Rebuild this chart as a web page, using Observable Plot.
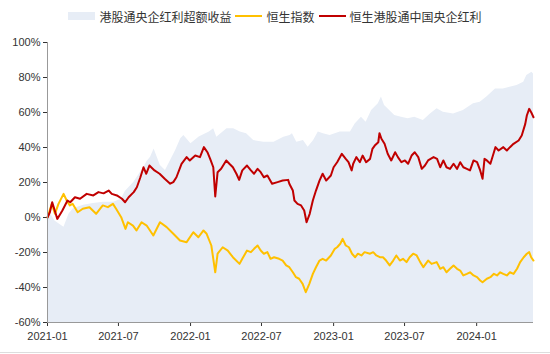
<!DOCTYPE html>
<html><head><meta charset="utf-8">
<script src="https://cdn.jsdelivr.net/npm/d3@7"></script>
<script src="https://cdn.jsdelivr.net/npm/@observablehq/plot@0.6"></script>
<style>
html,body{margin:0;padding:0;background:#fff;}
body{width:550px;height:354px;overflow:hidden;font-family:"Liberation Sans",Arial,sans-serif;}
#legend{height:30px;display:flex;justify-content:center;align-items:center;font-family:"Noto Sans CJK SC","Noto Sans",sans-serif;font-size:12px;color:#333;padding-top:2px;box-sizing:border-box;}
#legend .item{display:flex;align-items:center;margin:0 2px;}
#legend .sw{display:inline-block;width:27px;margin-right:4px;}
#legend .area{height:8px;background:#E7EDF6;}
#legend .line{height:2px;}
#chart svg{display:block;}
#foot{height:2px;border-top:1px solid #ddd;}
</style>
</head><body>
<div id="legend"></div>
<div id="chart"></div>
<div id="foot"></div>
<script>
const seriesNames = ["港股通央企红利超额收益", "恒生指数", "恒生港股通中国央企红利"];
const seriesColors = ["#E7EDF6", "#FFC000", "#C00000"];

const xTicks = ["2021-01-01","2021-07-01","2022-01-01","2022-07-01","2023-01-01","2023-07-01","2024-01-01"];
const yTicks = [-60,-40,-20,0,20,40,60,80,100];

// 恒生港股通中国央企红利 (%)
const redDates = ["2021-01-01","2021-01-07","2021-01-13","2021-01-26","2021-02-08","2021-02-21","2021-02-28","2021-03-12","2021-03-25","2021-04-11","2021-04-28","2021-05-11","2021-05-24","2021-06-06","2021-06-14","2021-06-27","2021-07-10","2021-07-18","2021-07-27","2021-08-09","2021-08-17","2021-08-26","2021-09-03","2021-09-10","2021-09-18","2021-10-01","2021-10-14","2021-10-27","2021-11-10","2021-11-18","2021-11-26","2021-12-09","2021-12-22","2021-12-30","2022-01-13","2022-01-25","2022-02-04","2022-02-13","2022-02-20","2022-02-28","2022-03-05","2022-03-11","2022-03-20","2022-04-02","2022-04-10","2022-04-19","2022-04-28","2022-05-05","2022-05-13","2022-05-25","2022-06-04","2022-06-12","2022-06-21","2022-06-29","2022-07-07","2022-07-16","2022-07-28","2022-08-11","2022-08-24","2022-09-07","2022-09-10","2022-09-19","2022-09-23","2022-10-01","2022-10-10","2022-10-18","2022-10-24","2022-11-01","2022-11-09","2022-11-17","2022-11-26","2022-12-04","2022-12-13","2022-12-25","2023-01-01","2023-01-10","2023-01-22","2023-02-01","2023-02-08","2023-02-16","2023-02-20","2023-02-28","2023-03-09","2023-03-16","2023-03-25","2023-04-04","2023-04-10","2023-04-16","2023-04-25","2023-04-28","2023-05-03","2023-05-11","2023-05-19","2023-05-28","2023-06-07","2023-06-14","2023-06-23","2023-07-02","2023-07-10","2023-07-19","2023-07-27","2023-08-05","2023-08-14","2023-08-22","2023-08-30","2023-09-13","2023-09-22","2023-09-30","2023-10-08","2023-10-16","2023-10-25","2023-11-03","2023-11-12","2023-11-20","2023-11-28","2023-12-07","2023-12-15","2023-12-24","2024-01-02","2024-01-10","2024-01-16","2024-01-21","2024-01-27","2024-02-05","2024-02-14","2024-02-18","2024-02-26","2024-03-09","2024-03-18","2024-03-26","2024-04-04","2024-04-17","2024-04-25","2024-05-04","2024-05-08","2024-05-14","2024-05-19","2024-05-25"];
const redValues = [0,3,8.7,-0.8,4,9.7,8.7,11.6,10.7,13.5,12.6,14.5,13.8,15.4,13.5,12.6,10.7,8.7,11.6,14.5,17.3,23,28.7,25,29.7,26.9,25,22.1,19.3,20.2,23,30.7,34.5,32.6,35.4,34.5,40.2,37.3,33.5,28.7,12,25.9,27.8,32.6,30.7,28.7,25,21.5,26.9,29.7,26.9,25,27.8,25.9,23,24,19.3,20.2,21.1,21.5,19.3,15.4,9.7,7.8,6.9,4,-2.7,2.1,9.7,15.4,21.1,25,21.1,24,28.7,31.6,36.4,33.5,31.6,26.9,30.7,34.5,31.6,35.4,31.6,33.5,39.2,41.1,43,48.2,45,42.1,36.4,32.6,37.3,34.5,31.6,32.6,30.7,35.4,37.3,34.5,27.8,29.7,32.6,34.5,33.5,28.7,32.6,28.7,27.8,30.7,27.8,31.6,28.7,27.8,26.9,32.6,31.6,26.9,22.1,33.5,32.6,30.7,37.3,40.2,38.3,40.2,38.3,40.2,42.1,44,46.9,53.5,58.3,62.1,60.2,57.3];

// 恒生指数 (%)
const yellowDates = ["2021-01-01","2021-01-12","2021-01-20","2021-01-29","2021-02-11","2021-02-19","2021-02-27","2021-03-06","2021-03-19","2021-04-01","2021-04-18","2021-05-05","2021-05-22","2021-06-04","2021-06-17","2021-06-25","2021-07-08","2021-07-19","2021-07-25","2021-08-07","2021-08-16","2021-08-29","2021-09-11","2021-09-28","2021-10-15","2021-11-01","2021-11-18","2021-12-05","2021-12-22","2022-01-08","2022-01-21","2022-02-03","2022-02-11","2022-02-23","2022-03-05","2022-03-11","2022-03-24","2022-04-06","2022-04-19","2022-05-06","2022-05-13","2022-05-25","2022-06-04","2022-06-12","2022-06-21","2022-06-29","2022-07-07","2022-07-16","2022-07-24","2022-08-02","2022-08-15","2022-08-24","2022-09-02","2022-09-10","2022-09-19","2022-09-27","2022-10-05","2022-10-14","2022-10-22","2022-10-31","2022-11-09","2022-11-17","2022-11-26","2022-12-04","2022-12-13","2022-12-25","2023-01-04","2023-01-10","2023-01-18","2023-01-24","2023-02-01","2023-02-09","2023-02-17","2023-02-25","2023-03-04","2023-03-13","2023-03-21","2023-04-04","2023-04-12","2023-04-20","2023-04-29","2023-05-07","2023-05-15","2023-05-24","2023-06-02","2023-06-10","2023-06-19","2023-06-27","2023-07-06","2023-07-14","2023-07-23","2023-08-01","2023-08-10","2023-08-18","2023-08-30","2023-09-08","2023-09-21","2023-09-30","2023-10-08","2023-10-16","2023-10-25","2023-11-03","2023-11-12","2023-11-20","2023-11-28","2023-12-07","2023-12-15","2023-12-24","2024-01-02","2024-01-10","2024-01-16","2024-01-27","2024-02-05","2024-02-14","2024-02-22","2024-03-01","2024-03-09","2024-03-18","2024-03-26","2024-04-04","2024-04-13","2024-04-21","2024-04-30","2024-05-08","2024-05-14","2024-05-19","2024-05-25"];
const yellowValues = [0,7.8,2.1,7.8,13.5,9.7,6.9,7.8,3,5,5.9,2.1,6.9,5.9,7.8,5,0.2,-6.5,-2.7,-4.6,-7.4,-2.7,-4.6,-10.3,-2.7,-5.5,-9.3,-13.1,-14.1,-8.4,-11.3,-7.4,-9.3,-16,-31.3,-20.7,-17,-18.9,-22.7,-26.5,-23.6,-18.9,-19.8,-17.9,-16,-18.9,-20.7,-19.8,-23.6,-22.7,-23.6,-24.6,-27.4,-28.4,-31.3,-34.1,-35,-37.9,-42.7,-37.9,-32.2,-28.4,-24.6,-23.6,-24.6,-21.7,-17.9,-17,-15,-12.2,-16,-17,-20.7,-22.7,-20.7,-21.7,-19.8,-20.7,-19.8,-21.7,-22.7,-22.7,-24.6,-27.4,-24.6,-21.7,-24.6,-23.6,-25.5,-22.7,-20.7,-21.7,-25.5,-28.4,-24.6,-26.5,-25.5,-29.3,-28.4,-31.3,-29.3,-27.4,-29.3,-30.3,-33.1,-32.2,-31.3,-33.1,-34.1,-36,-37,-35,-34.1,-32.2,-33.1,-31.3,-32.2,-33.1,-31.3,-32.2,-29.3,-25.5,-22.7,-20.7,-19.8,-22.7,-24.6];

// 港股通央企红利超额收益 (%)
const excessDates = ["2021-01-01","2021-01-09","2021-01-20","2021-01-30","2021-02-12","2021-02-25","2021-03-08","2021-04-03","2021-04-28","2021-05-24","2021-06-19","2021-07-08","2021-07-19","2021-08-09","2021-09-04","2021-09-12","2021-09-21","2021-09-30","2021-10-08","2021-10-16","2021-10-29","2021-11-11","2021-11-24","2021-12-07","2021-12-15","2022-01-02","2022-01-23","2022-02-18","2022-03-01","2022-03-09","2022-04-04","2022-04-21","2022-05-08","2022-05-24","2022-06-11","2022-07-07","2022-08-02","2022-08-27","2022-09-12","2022-09-18","2022-09-29","2022-10-16","2022-10-28","2022-11-11","2022-11-23","2022-12-06","2022-12-23","2023-01-18","2023-02-13","2023-02-25","2023-03-13","2023-03-25","2023-04-08","2023-04-25","2023-05-03","2023-05-11","2023-05-24","2023-06-06","2023-06-23","2023-07-10","2023-07-27","2023-08-18","2023-09-05","2023-09-22","2023-10-08","2023-11-03","2023-11-28","2023-12-24","2024-01-10","2024-01-27","2024-02-18","2024-03-09","2024-03-26","2024-04-13","2024-04-30","2024-05-08","2024-05-21","2024-05-25"];
const excessValues = [0,2,-2,-3.6,-5.5,2,5,7,8,8.7,8.7,10.5,15,20,28.7,32,34.5,39.2,34.5,29.7,26.9,32.6,38.3,45,46.9,42.1,46,48.8,50.7,45.9,50.7,50.7,48.8,47.8,44,43,43,45.9,46.9,47.8,43,44,40.2,44,48.8,47.8,46.9,48.8,48.8,53.5,57.3,54.5,61.1,65,68.8,64,61.1,58.3,57.3,56.4,57.3,55.4,59.2,62.1,60.2,59.2,61.1,65,65.9,68.8,73.5,73.5,74.5,75.4,77.3,81.1,83,82];

const parse = d3.utcParse("%Y-%m-%d");
const toRows = (ds, vs) => ds.map((d, i) => ({date: parse(d), v: vs[i]}));
const red = toRows(redDates, redValues);
const yellow = toRows(yellowDates, yellowValues);
const excess = toRows(excessDates, excessValues);

// legend
const legend = document.getElementById("legend");
seriesNames.forEach((name, i) => {
  const item = document.createElement("div");
  item.className = "item";
  const sw = document.createElement("span");
  sw.className = "sw " + (i === 0 ? "area" : "line");
  sw.style.background = seriesColors[i];
  const t = document.createElement("span");
  t.textContent = name;
  item.appendChild(sw); item.appendChild(t);
  legend.appendChild(item);
});

const xStart = parse("2021-01-01"), xEnd = parse("2024-05-25");
const chart = Plot.plot({
  width: 550, height: 322,
  marginLeft: 47, marginRight: 17, marginTop: 12, marginBottom: 30,
  style: {fontFamily: "'Liberation Sans', Arial, sans-serif", fontSize: "11px", color: "#333", background: "#fff", overflow: "visible"},
  x: {type: "utc", domain: [xStart, xEnd], ticks: xTicks.map(parse), tickFormat: d3.utcFormat("%Y-%m"), label: null, tickSize: 4, tickPadding: 6},
  y: {domain: [-60, 100], ticks: yTicks, tickFormat: d => d + "%", label: null, tickSize: 4, tickPadding: 3},
  marks: [
    Plot.areaY(excess, {x: "date", y1: -60, y2: "v", fill: seriesColors[0]}),
    Plot.lineY(yellow, {x: "date", y: "v", stroke: seriesColors[1], strokeWidth: 2}),
    Plot.lineY(red, {x: "date", y: "v", stroke: seriesColors[2], strokeWidth: 2}),
    Plot.ruleX([xStart], {stroke: "#999"}),
    Plot.ruleY([-60], {stroke: "#999"})
  ]
});
document.getElementById("chart").appendChild(chart);
</script>
</body></html>
